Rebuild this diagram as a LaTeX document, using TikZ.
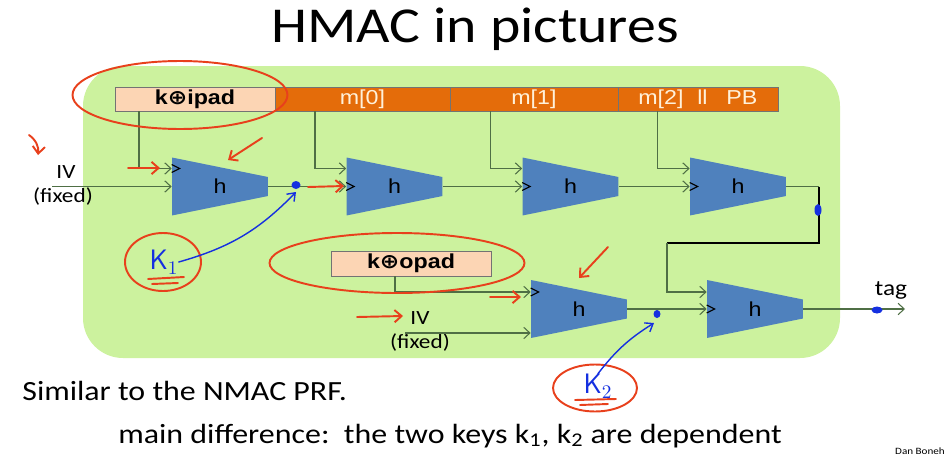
\documentclass[tikz,border=0pt]{standalone}
\usepackage{fontspec}
\setmainfont{Carlito}[FakeStretch=1.15]
\newfontfamily\arialfont{Liberation Sans}[FakeStretch=1.15]
\newfontfamily\symfont{DejaVu Sans}[FakeStretch=1.15]
\usepackage{tikz}
\usetikzlibrary{arrows.meta,positioning,calc}
\definecolor{bggreen}{HTML}{CCF29E}
\definecolor{keypeach}{HTML}{FCD5B4}
\definecolor{msgorange}{HTML}{E46C0A}
\definecolor{msgtext}{HTML}{FFF1DA}
\definecolor{hblue}{HTML}{4F81BD}
\definecolor{wireg}{HTML}{4F6F45}
\definecolor{redpen}{HTML}{E8401C}
\definecolor{bluepen}{HTML}{1530E0}

\tikzset{
  wire/.style={draw=wireg, line width=0.6pt},
  tip/.style={-{Straight Barb[length=3.5pt,width=6.5pt]}},
  chev/.style={draw=black, line width=0.6pt},
  cell/.style={rectangle, minimum height=0.48cm, inner sep=0pt, outer sep=0pt,
    draw=black!55, line width=0.4pt, font=\arialfont\fontsize{11.5}{13}\selectfont},
  keycell/.style={cell, fill=keypeach, font=\arialfont\bfseries\fontsize{11.5}{13}\selectfont},
  msgcell/.style={cell, fill=msgorange, text=msgtext},
  hfun/.style={rectangle, minimum width=1.92cm, minimum height=1.16cm, inner sep=0pt,
    font=\arialfont\fontsize{11.5}{13}\selectfont,
    path picture={\fill[hblue] (path picture bounding box.north west)
      -- ($(path picture bounding box.east)+(0,0.19cm)$)
      -- ($(path picture bounding box.east)+(0,-0.19cm)$)
      -- (path picture bounding box.south west) -- cycle;}},
  lbl/.style={inner sep=0pt, font=\fontsize{11.5}{13}\selectfont},
  redmark/.style={draw=redpen, line width=1.1pt, line cap=round},
  redarrow/.style={redmark, -{Straight Barb[length=4pt,width=7pt]}},
  bluemark/.style={draw=bluepen, line width=0.8pt, line cap=round},
  note/.style={inner sep=0pt, text=bluepen, font=\fontsize{16}{18}\selectfont}
}

\begin{document}
\begin{tikzpicture}[x=0.02cm,y=-0.02cm]
  \useasboundingbox (0,0) rectangle (947,460);
  \node[anchor=base, font=\fontsize{28.6}{34}\selectfont] (ttl) at (475,42) {HMAC in pictures};
  \fill[bggreen, rounded corners=0.8cm] (83,66) rectangle (840,358);

  % message blocks
  \node[keycell, minimum width=3.2cm] (kip) at (195,99) {k{\symfont\bfseries ⊕}ipad};
  \node[msgcell, minimum width=3.5cm, right=0pt of kip] (m0) {m[0]};
  \node[msgcell, minimum width=3.36cm, right=0pt of m0] (m1) {m[1]};
  \node[msgcell, minimum width=3.2cm, right=0pt of m1] (m2) {m[2]\hspace{0.68em}ll\hspace{0.93em}PB\hspace{0.4cm}};
  \node[keycell, minimum width=3.2cm, minimum height=0.5cm] (kop) at (411,263.5) {k{\symfont\bfseries ⊕}opad};

  % compression functions
  \node[hfun] (h1) at (220,186.5) {h};
  \node[hfun] (h2) at (394.5,186.5) {h};
  \node[hfun] (h3) at (570.5,186.5) {h};
  \node[hfun] (h4) at (738,186.5) {h};
  \node[hfun] (h5) at (579,309) {h};
  \node[hfun] (h6) at (755,309) {h};

  \draw[chev] ($(h1.west)+(0,-22)$) -- ++(8,4) -- ++(-8,4);
  \draw[chev] ($(h2.west)+(0,-4)$) -- ++(8,4) -- ++(-8,4);
  \draw[chev] ($(h3.west)+(0,-4)$) -- ++(8,4) -- ++(-8,4);
  \draw[chev] ($(h4.west)+(0,-4)$) -- ++(8,4) -- ++(-8,4);
  \draw[chev] ($(h5.west)+(0,-21)$) -- ++(8,4) -- ++(-8,4);
  \draw[chev] ($(h6.west)+(0,-4)$) -- ++(8,4) -- ++(-8,4);

  % IV inputs
  \node[lbl] (iv1) at (66,172) {IV};
  \node[lbl] (fx1) at (63,197) {(fixed)};
  \coordinate (iv1in) at (52,186.5);
  \node[lbl] (iv2) at (420,318) {IV};
  \node[lbl] (fx2) at (420,343) {(fixed)};
  \coordinate (iv2in) at (405,333);

  % wires
  \draw[wire,tip] (iv1in) -- (h1.west);
  \draw[wire,tip] ($(kip.south west)+(24,0)$) |- ($(h1.west)+(0,-18)$);
  \draw[wire,tip] ($(m0.south west)+(40,0)$) |- ($(h2.west)+(0,-18)$);
  \draw[wire,tip] ($(m1.south west)+(41,0)$) |- ($(h3.west)+(0,-18)$);
  \draw[wire,tip] ($(m2.south west)+(40,0)$) |- ($(h4.west)+(0,-18)$);
  \draw[wire,tip] (h1.east) -- (h2.west);
  \draw[wire,tip] (h2.east) -- (h3.west);
  \draw[wire,tip] (h3.east) -- (h4.west);
  \coordinate (turn1) at (819,186.5);
  \coordinate (turn2) at (667,243);
  \draw[wire] (h4.east) -- (turn1);
  \draw[line width=1.3pt] (turn1) |- (turn2);
  \draw[wire,tip] (turn2) |- ($(h6.west)+(0,-17)$);
  \draw[wire,tip] ($(kop.south west)+(64,0)$) |- ($(h5.west)+(0,-17)$);
  \draw[wire,tip] (iv2in) -- (iv2in -| h5.west);
  \draw[wire,tip] (h5.east) -- (h6.west);
  \coordinate (tagout) at (905,309);
  \draw[wire,tip] (h6.east) -- (tagout);
  \node[lbl, font=\fontsize{12.5}{14}\selectfont] (tag) at (891,290) {tag};

  % pen marks
  \draw[redmark] (180,95) ellipse [x radius=2.15cm, y radius=0.68cm];
  \draw[redmark] (397,263) ellipse [x radius=2.55cm, y radius=0.6cm];
  \draw[redmark] (163,262) ellipse [x radius=0.76cm, y radius=0.58cm];
  \draw[redmark] (595,388) ellipse [x radius=0.84cm, y radius=0.47cm];
  \draw[redarrow] (29,135) to[bend left=30] (38,155);
  \draw[redarrow] (128,168) -- (160,168);
  \draw[redarrow] (262,138) -- (228,160);
  \draw[redarrow] (308,187) -- (344,186);
  \draw[redarrow] (608,247) -- (579,278);
  \draw[redarrow] (490,297) -- (521,297);
  \draw[redarrow] (357,317) -- (403,316);

  \node[note] (k1note) at (164,262) {$\mathsf{K}_{1}$};
  \node[note] (k2note) at (598,386) {$\mathsf{K}_{2}$};
  \draw[redmark] (148,279) -- (184,277);
  \draw[redmark] (152,284) -- (178,283);
  \draw[redmark] (575,400) -- (616,399);
  \draw[redmark] (580,405) -- (608,404);

  \coordinate (dot1) at (296,185);
  \coordinate (dot2) at (818,210);
  \coordinate (dot3) at (657,314);
  \coordinate (dot4) at (877,310);
  \fill[bluepen] (dot1) ellipse [x radius=0.09cm, y radius=0.08cm];
  \fill[bluepen] (dot2) ellipse [x radius=0.07cm, y radius=0.12cm];
  \fill[bluepen] (dot3) ellipse [x radius=0.07cm, y radius=0.08cm];
  \fill[bluepen] (dot4) ellipse [x radius=0.11cm, y radius=0.07cm];
  \draw[bluemark, -{Straight Barb[length=4pt,width=6pt]}] (k1note.east) to[bend right=15] ($(dot1)+(0,7)$);
  \draw[bluemark, -{Straight Barb[length=4pt,width=6pt]}] (k2note.north) to[bend left=10] ($(dot3)+(-3,9)$);

  % text below
  \node[anchor=base west, inner sep=0pt, font=\fontsize{15.8}{18}\selectfont] (line1) at (22,400) {Similar to the NMAC PRF.};
  \node[anchor=base west, inner sep=0pt, font=\fontsize{15.8}{18}\selectfont] (line2) at (118,443) {main difference:\ \ the two keys k\textsubscript{1}, k\textsubscript{2} are dependent};
  \node[inner sep=0pt, font=\fontsize{5.5}{6}\selectfont] (author) at (920,451) {Dan Boneh};
\end{tikzpicture}
\end{document}
